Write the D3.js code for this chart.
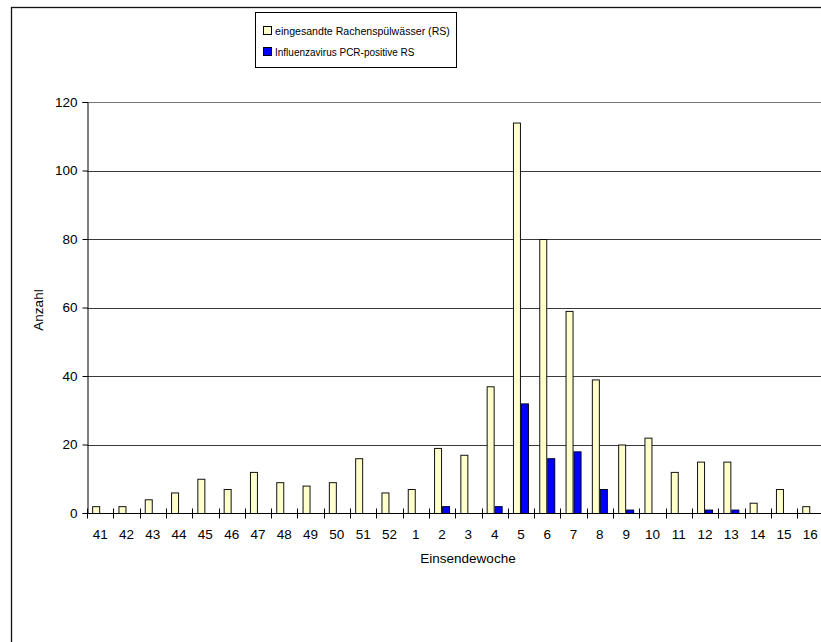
<!DOCTYPE html>
<html>
<head>
<meta charset="utf-8">
<script src="https://cdn.jsdelivr.net/npm/d3@7"></script>
<style>
  html, body { margin: 0; padding: 0; background: #fff; }
  svg { display: block; font-family: Arial, "Liberation Sans", sans-serif; }
</style>
</head>
<body>
<svg id="chart" width="821" height="642"></svg>
<script>
// Calendar weeks (season 41 .. 16)
const weeks = ["41","42","43","44","45","46","47","48","49","50","51","52",
               "1","2","3","4","5","6","7","8","9","10","11","12","13","14","15","16"];
// Submitted throat washes per week
const submitted = [2,2,4,6,10,7,12,9,8,9,16,6,7,19,17,37,114,80,59,39,20,22,12,15,15,3,7,2];
// Influenza PCR-positive throat washes per week
const positive  = [0,0,0,0,0,0,0,0,0,0,0,0,0,2,0,2,32,16,18,7,1,0,0,1,1,0,0,0];
const yTicks = [0,20,40,60,80,100,120];
const seriesNames = ["eingesandte Rachenspülwässer (RS)", "Influenzavirus PCR-positive RS"];
const seriesColors = ["#FFFFCC", "#0000FF"];

const svg = d3.select("#chart");

// outer chart frame (runs past the right and bottom edges)
svg.append("rect")
  .attr("x", 11.5).attr("y", 7.5)
  .attr("width", 900).attr("height", 700)
  .attr("fill", "none").attr("stroke", "#111").attr("stroke-width", 1.3);

const plot = { left: 87, top: 102, bottom: 513, band: 26.3 };
plot.right = plot.left + plot.band * weeks.length;

const x = d3.scaleBand().domain(weeks).range([plot.left, plot.right]).paddingInner(0).paddingOuter(0);
const y = d3.scaleLinear().domain([0, 120]).range([plot.bottom, plot.top]);
const barW = 8;
const sub = d3.scaleBand().domain([0, 1]).range([0, barW * 2]);
const groupOffset = (x.bandwidth() - barW * 2) / 2;

// horizontal gridlines
svg.append("g").selectAll("line")
  .data(yTicks.filter(d => d > 0))
  .join("line")
  .attr("x1", plot.left).attr("x2", plot.right)
  .attr("y1", d => Math.round(y(d)) + 0.5).attr("y2", d => Math.round(y(d)) + 0.5)
  .attr("stroke", d => d === 120 ? "#777" : "#3a3a3a").attr("stroke-width", 1);

// bars
const series = [submitted, positive];
series.forEach((vals, si) => {
  svg.append("g").selectAll("rect")
    .data(weeks.map((w, i) => ({ w, v: vals[i] })).filter(d => d.v > 0))
    .join("rect")
    .attr("x", d => x(d.w) + groupOffset + sub(si) + 0.5)
    .attr("y", d => y(d.v) + 0.5)
    .attr("width", barW - 1)
    .attr("height", d => y(0) - y(d.v))
    .attr("fill", seriesColors[si])
    .attr("stroke", si === 0 ? "#111" : "#000033")
    .attr("stroke-width", 1);
});

// y axis
const yAxis = d3.axisLeft(y).tickValues(yTicks).tickSize(5).tickPadding(5);
const gy = svg.append("g").attr("transform", `translate(${plot.left + 0.5},0)`).call(yAxis);
gy.select(".domain").attr("stroke", "#000");
gy.selectAll(".tick line").attr("stroke", "#000");
gy.selectAll(".tick text").attr("font-size", 13.5).attr("fill", "#000")
  .attr("font-family", "Arial, 'Liberation Sans', sans-serif");

// x axis: labels at band centres, ticks at band boundaries crossing the baseline
const gx = svg.append("g").attr("transform", `translate(0,${plot.bottom + 0.5})`);
gx.append("line").attr("x1", plot.left).attr("x2", plot.right)
  .attr("stroke", "#000");
gx.selectAll("line.tk")
  .data(d3.range(weeks.length + 1))
  .join("line").attr("class", "tk")
  .attr("x1", i => Math.round(plot.left + i * x.step()) + 0.5)
  .attr("x2", i => Math.round(plot.left + i * x.step()) + 0.5)
  .attr("y1", -5).attr("y2", 5)
  .attr("stroke", "#000");
gx.selectAll("text")
  .data(weeks)
  .join("text")
  .attr("x", d => x(d) + x.bandwidth() / 2)
  .attr("y", 25)
  .attr("text-anchor", "middle")
  .attr("font-size", 13.5)
  .attr("fill", "#000")
  .text(d => d);

// axis titles
svg.append("text")
  .attr("x", 468).attr("y", 563)
  .attr("text-anchor", "middle").attr("font-size", 13.5)
  .text("Einsendewoche");
svg.append("text")
  .attr("transform", "translate(43,310) rotate(-90)")
  .attr("text-anchor", "middle").attr("font-size", 13.5)
  .text("Anzahl");

// legend
const lg = svg.append("g");
lg.append("rect")
  .attr("x", 255.5).attr("y", 12.5).attr("width", 201).attr("height", 55)
  .attr("fill", "#fff").attr("stroke", "#000");
seriesNames.forEach((name, i) => {
  const cy = 31 + i * 21;
  lg.append("rect")
    .attr("x", 263.5).attr("y", cy - 4.5).attr("width", 8).attr("height", 8)
    .attr("fill", seriesColors[i]).attr("stroke", "#000");
  lg.append("text")
    .attr("x", 275).attr("y", cy + 4)
    .attr("font-size", i === 0 ? 10.6 : 10)
    .text(name);
});
</script>
</body>
</html>
